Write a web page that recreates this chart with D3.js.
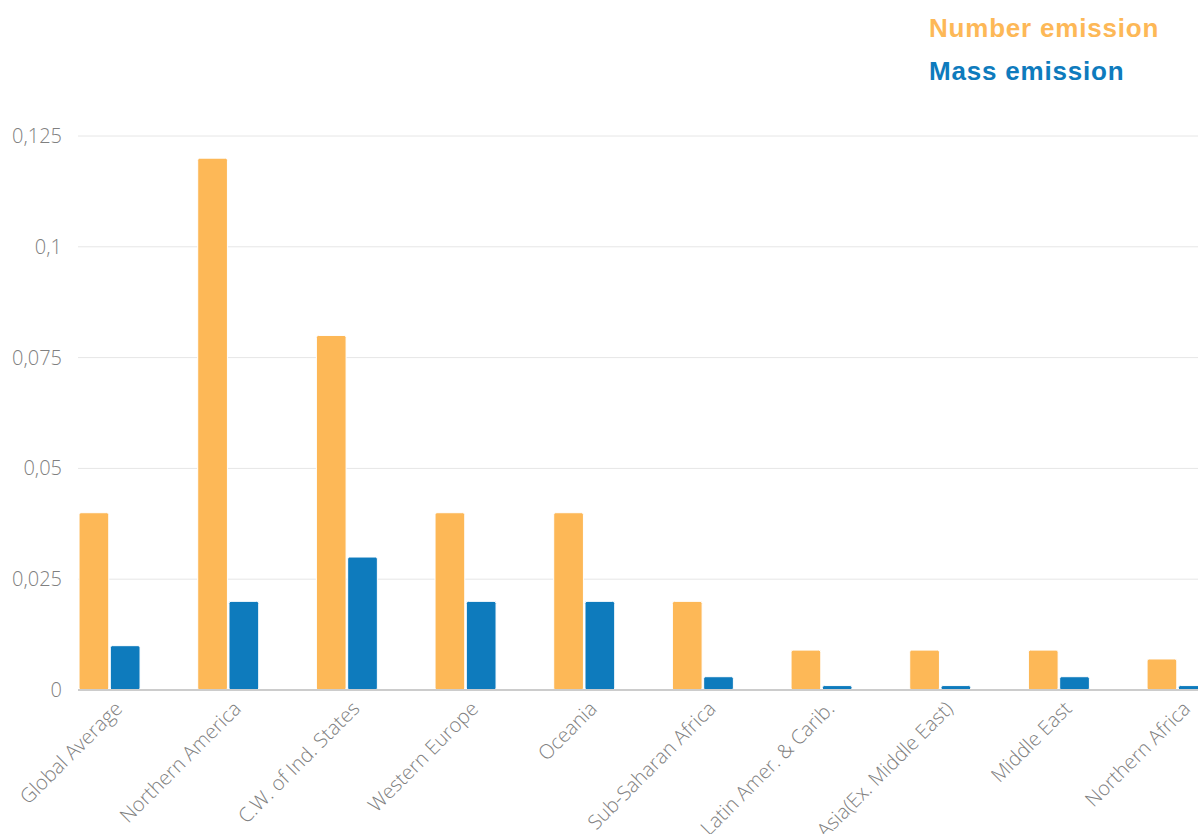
<!DOCTYPE html>
<html>
<head>
<meta charset="utf-8">
<script src="https://cdn.jsdelivr.net/npm/d3@7"></script>
<style>
  html, body { margin: 0; padding: 0; background: #ffffff; }
  svg { display: block; }
</style>
</head>
<body>
<svg id="chart" width="1198" height="834"></svg>
<script>
const categories = ["Global Average", "Northern America", "C.W. of Ind. States", "Western Europe", "Oceania", "Sub-Saharan Africa", "Latin Amer. & Carib.", "Asia(Ex. Middle East)", "Middle East", "Northern Africa"];
const seriesNames = ["Number emission", "Mass emission"];
const numberEmission = [0.04, 0.12, 0.08, 0.04, 0.04, 0.02, 0.009, 0.009, 0.009, 0.007];
const massEmission = [0.01, 0.02, 0.03, 0.02, 0.02, 0.003, 0.001, 0.001, 0.003, 0.001];
const yTicks = [0, 0.025, 0.05, 0.075, 0.1, 0.125];
const yTickLabels = ["0", "0,025", "0,05", "0,075", "0,1", "0,125"];
const colors = ["#fdb857", "#0e7bbd"];

const svg = d3.select("#chart");
const plotLeft = 78, plotRight = 1198, plotTop = 136, plotBottom = 690;

const y = d3.scaleLinear().domain([0, 0.125]).range([plotBottom, plotTop]);
const step = 118.67;
const x0 = d3.scaleBand().domain(categories)
  .range([50.2, 50.2 + step * categories.length])
  .paddingInner(0.486).paddingOuter(0.243);
const x1 = d3.scaleBand().domain(seriesNames).range([0, x0.bandwidth()]).paddingInner(0.05);

// gridlines
svg.append("g").selectAll("line").data(yTicks.filter(d => d > 0)).join("line")
  .attr("x1", plotLeft).attr("x2", plotRight)
  .attr("y1", d => y(d)).attr("y2", d => y(d))
  .attr("stroke", "#e6e6e6").attr("stroke-width", 1);

// y axis labels
const yAxis = d3.axisLeft(y).tickValues(yTicks).tickFormat((d, i) => yTickLabels[i]).tickSize(0).tickPadding(0);
const yg = svg.append("g").attr("transform", `translate(62,0)`).call(yAxis);
yg.select(".domain").remove();
yg.selectAll("text").attr("font-family", "'Open Sans', sans-serif").attr("font-weight", 300)
  .attr("font-size", 20).attr("fill", "#808080");

// bars
const data = categories.map((c, i) => ({c, vals: [numberEmission[i], massEmission[i]]}));
const groups = svg.append("g").selectAll("g").data(data).join("g")
  .attr("transform", d => `translate(${x0(d.c)},0)`);
groups.selectAll("rect").data(d => d.vals.map((v, j) => ({v, s: seriesNames[j], j}))).join("rect")
  .attr("x", d => x1(d.s))
  .attr("width", x1.bandwidth())
  .attr("y", d => y(d.v))
  .attr("height", d => y(0) - y(d.v))
  .attr("rx", 2).attr("ry", 2)
  .attr("fill", d => colors[d.j])
  .attr("stroke", "#ffffff").attr("stroke-width", 1);

// baseline
svg.append("line").attr("x1", plotLeft).attr("x2", plotRight)
  .attr("y1", y(0)).attr("y2", y(0)).attr("stroke", "#cccccc").attr("stroke-width", 2);

// x axis labels
const xAxis = d3.axisBottom(x0).tickSize(0).tickPadding(0);
const xg = svg.append("g").attr("transform", `translate(0,${plotBottom})`).call(xAxis);
xg.select(".domain").remove();
xg.selectAll("text")
  .attr("font-family", "'Open Sans', sans-serif").attr("font-weight", 300)
  .attr("font-size", 20).attr("fill", "#808080")
  .attr("text-anchor", "end").attr("dy", null).attr("y", null)
  .attr("transform", "translate(14,20) rotate(-45)");

// legend
const legend = svg.append("g");
legend.selectAll("text").data(seriesNames).join("text")
  .attr("x", 929).attr("y", (d, i) => 37 + i * 43)
  .attr("font-family", "'Liberation Sans', Arial, sans-serif").attr("font-weight", "bold")
  .attr("font-size", 26).attr("letter-spacing", 0.8).attr("fill", (d, i) => colors[i])
  .text(d => d);
</script>
</body>
</html>
